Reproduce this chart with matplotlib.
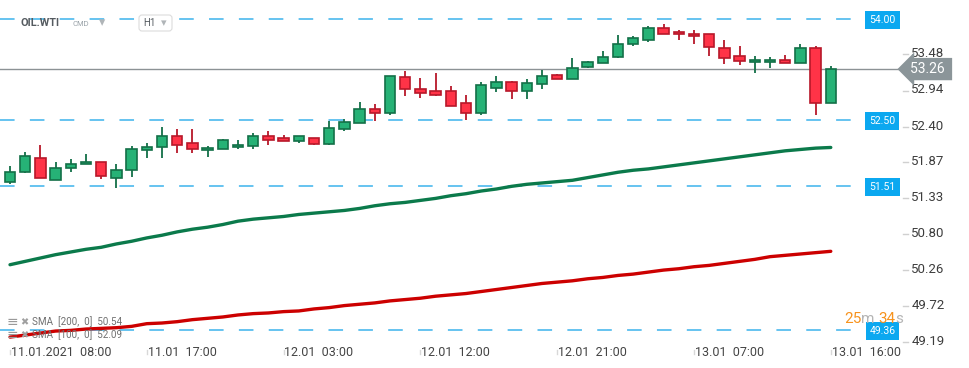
import matplotlib
matplotlib.use("Agg")
import matplotlib.pyplot as plt
from matplotlib.patches import FancyBboxPatch
from matplotlib.transforms import IdentityTransform
import numpy as np

plt.rcParams["font.family"] = ["Roboto", "DejaVu Sans"]
plt.rcParams["lines.scale_dashes"] = False

# hourly candles, OIL.WTI H1, 11.01 08:00 .. 13.01 16:00
opens = [51.58, 51.73, 51.94, 51.61, 51.78, 51.84, 51.88, 51.64, 51.75, 52.05,
         52.09, 52.26, 52.15, 52.05, 52.06, 52.09, 52.11, 52.26, 52.23, 52.18,
         52.23, 52.14, 52.36, 52.46, 52.66, 52.61, 53.14, 52.96, 52.93, 52.93,
         52.76, 52.60, 52.98, 53.06, 52.94, 53.03, 53.17, 53.11, 53.29, 53.35,
         53.44, 53.63, 53.70, 53.88, 53.81, 53.78, 53.78, 53.57, 53.45, 53.36,
         53.36, 53.39, 53.35, 53.57, 52.76]
closes = [51.73, 51.97, 51.64, 51.79, 51.85, 51.88, 51.66, 51.76, 52.06, 52.09,
          52.26, 52.12, 52.06, 52.08, 52.20, 52.12, 52.26, 52.20, 52.18, 52.26,
          52.14, 52.38, 52.47, 52.66, 52.61, 53.15, 52.97, 52.91, 52.88, 52.71,
          52.60, 53.02, 53.06, 52.94, 53.05, 53.15, 53.11, 53.27, 53.36, 53.44,
          53.64, 53.73, 53.88, 53.78, 53.78, 53.75, 53.59, 53.42, 53.38, 53.39,
          53.39, 53.35, 53.57, 52.75, 53.26]
highs = [51.81, 52.02, 52.13, 51.87, 51.92, 51.99, 51.88, 51.85, 52.11, 52.15,
         52.40, 52.37, 52.37, 52.11, 52.21, 52.20, 52.30, 52.33, 52.28, 52.26,
         52.23, 52.49, 52.52, 52.77, 52.74, 53.15, 53.23, 53.12, 53.20, 53.01,
         52.88, 53.06, 53.15, 53.08, 53.11, 53.25, 53.18, 53.42, 53.38, 53.53,
         53.77, 53.75, 53.90, 53.93, 53.84, 53.84, 53.79, 53.70, 53.60, 53.45,
         53.44, 53.47, 53.63, 53.61, 53.30]
lows = [51.54, 51.71, 51.64, 51.60, 51.73, 51.84, 51.62, 51.48, 51.65, 51.94,
        51.94, 52.00, 52.01, 51.95, 52.06, 52.06, 52.06, 52.12, 52.18, 52.16,
        52.12, 52.12, 52.33, 52.45, 52.49, 52.57, 52.86, 52.83, 52.86, 52.71,
        52.50, 52.57, 52.92, 52.82, 52.82, 52.97, 53.11, 53.11, 53.27, 53.35,
        53.42, 53.61, 53.67, 53.78, 53.70, 53.63, 53.45, 53.33, 53.32, 53.20,
        53.27, 53.35, 53.35, 52.57, 52.75]

sma100 = [50.34, 50.39, 50.44, 50.49, 50.53, 50.57, 50.60, 50.65, 50.69, 50.74,
          50.78, 50.83, 50.87, 50.90, 50.94, 50.99, 51.02, 51.04, 51.06, 51.09,
          51.11, 51.13, 51.15, 51.18, 51.22, 51.25, 51.27, 51.30, 51.33, 51.37,
          51.40, 51.44, 51.47, 51.51, 51.54, 51.56, 51.58, 51.60, 51.64, 51.68,
          51.72, 51.75, 51.77, 51.80, 51.83, 51.86, 51.89, 51.92, 51.95, 51.98,
          52.01, 52.04, 52.06, 52.08, 52.09]
sma200 = [49.26, 49.29, 49.32, 49.35, 49.36, 49.38, 49.39, 49.40, 49.42, 49.46,
          49.47, 49.49, 49.52, 49.54, 49.56, 49.59, 49.61, 49.62, 49.64, 49.65,
          49.68, 49.70, 49.73, 49.75, 49.77, 49.80, 49.82, 49.84, 49.87, 49.89,
          49.91, 49.94, 49.97, 50.00, 50.03, 50.06, 50.08, 50.10, 50.13, 50.15,
          50.18, 50.20, 50.23, 50.26, 50.28, 50.31, 50.33, 50.36, 50.39, 50.42,
          50.46, 50.48, 50.50, 50.52, 50.54]

level_lines = [54.00, 52.50, 51.51, 49.36]
last_price = 53.26
price_ticks = [53.48, 52.94, 52.40, 51.87, 51.33, 50.80, 50.26, 49.72, 49.19]
date_pos = [0, 9, 18, 27, 36, 45, 54]
date_labels = ["11.01.2021  08:00", "11.01  17:00", "12.01  03:00", "12.01  12:00",
               "12.01  21:00", "13.01  07:00", "13.01  16:00"]
legend_rows = ["SMA  [200,  0]  50.54", "SMA  [100,  0]  52.09"]

GREEN, GREEN_EDGE = "#26b276", "#137048"
RED, RED_EDGE = "#ff3347", "#b8182a"
BLUE = "#3cb3ec"

fig = plt.figure(figsize=(9.7, 3.68), dpi=100)
ax = fig.add_axes([0, 0, 1, 1])
ax.axis("off")
ax.set_xlim(-0.658, 63.158)
ax.set_ylim(48.7985, 54.291)

x = np.arange(len(opens))
o, c, h, l = map(np.array, (opens, closes, highs, lows))
up = c >= o

# level lines
for lv in level_lines:
    ax.plot([-0.66, 55.9], [lv, lv], color=BLUE, lw=1.1, dashes=(10.5, 11), zorder=1)
    ax.text(57.4, lv - 0.01, f"{lv:.2f}", color="white", fontsize=7.5, ha="center", va="center",
            bbox=dict(boxstyle="square,pad=0.38", fc="#0ba8f0", ec="none"), zorder=6)

# current price line
ax.plot([-0.66, 58.6], [last_price, last_price], color="#8c9295", lw=1.0, zorder=2)
ax.text(59.2, last_price, f"{last_price:.2f} ", color="white", fontsize=10, ha="left",
        va="center", bbox=dict(boxstyle="larrow,pad=0.3", fc="#8b9599", ec="none"), zorder=6)

# SMA lines
ax.plot(x, sma100, color="#0b7a4b", lw=2.4, solid_capstyle="round", zorder=3)
ax.plot(x, sma200, color="#cc0000", lw=2.4, solid_capstyle="round", zorder=3)

# candles
ax.vlines(x[up], l[up], h[up], color=GREEN_EDGE, lw=1.3, zorder=4)
ax.vlines(x[~up], l[~up], h[~up], color=RED_EDGE, lw=1.3, zorder=4)
body = np.maximum(np.abs(c - o), 0.025)
ax.bar(x[up], body[up], bottom=np.minimum(o, c)[up], width=0.68, color=GREEN,
       edgecolor=GREEN_EDGE, linewidth=1.2, zorder=5)
ax.bar(x[~up], body[~up], bottom=np.minimum(o, c)[~up], width=0.68, color=RED,
       edgecolor=RED_EDGE, linewidth=1.2, zorder=5)

# right price scale
for t in price_ticks:
    ax.plot([58.75, 59.1], [t, t], color="#d0d0d0", lw=1)
    ax.text(59.3, t + 0.01, f"{t:.2f}", fontsize=9.5, color="#3d3d3d", ha="left", va="center")

# time axis
for p, lab in zip(date_pos, date_labels):
    ax.plot([p, p], [49.01, 49.07], color="#d8d8d8", lw=1)
    ax.text(p + 0.05, 49.035, lab, fontsize=9.0, color="#444444", ha="left", va="center")

# header
ax.text(0.72, 53.948, "OIL.WTI", fontsize=7.8, fontweight="bold", color="#555b60",
        ha="left", va="center", zorder=7)
ax.text(4.08, 53.935, "CMD", fontsize=5.5, color="#9aa3a9", ha="left", va="center", zorder=7)
ax.text(5.85, 53.948, "\u25be", fontsize=9, color="#b0b5b8", ha="left", va="center", zorder=7)
ax.add_patch(FancyBboxPatch((139, 337), 33, 16, boxstyle="round,pad=0,rounding_size=3",
                            fc="white", ec="#dcdcdc", lw=0.8, transform=IdentityTransform(),
                            zorder=6))
ax.text(8.75, 53.948, "H1", fontsize=7, color="#555b60", ha="left", va="center", zorder=7)
ax.text(9.95, 53.948, "\u25be", fontsize=8, color="#b0b5b8", ha="left", va="center", zorder=8)

# indicator legend
for txt, yy in zip(legend_rows, [49.485, 49.29]):
    ax.text(0.13, yy, "\u2261", fontsize=10, color="#9a9a9a", ha="center", va="center",
            family="DejaVu Sans", zorder=7)
    ax.text(0.92, yy, "\u2716", fontsize=7, color="#a0a0a0", ha="center", va="center",
            family="DejaVu Sans", zorder=7)
    ax.text(1.45, yy, txt, fontsize=7.1, color="#707070", ha="left", va="center", zorder=7)

# countdown
cd_y = 49.53
ax.text(54.87, cd_y, "25", fontsize=11, color="#f7931e", ha="left", va="center", zorder=7)
ax.text(55.99, cd_y, "m", fontsize=11, color="#b5b5b5", ha="left", va="center", zorder=7)
ax.text(57.1, cd_y, "34", fontsize=11, color="#f7931e", ha="left", va="center", zorder=7)
ax.text(58.22, cd_y, "s", fontsize=11, color="#b5b5b5", ha="left", va="center", zorder=7)

fig.savefig("out.png", dpi=100, facecolor="white")
